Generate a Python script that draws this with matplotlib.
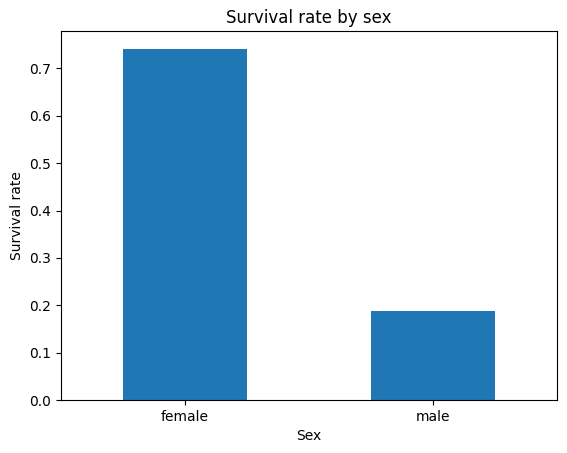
import matplotlib
matplotlib.use("Agg")
import matplotlib.pyplot as plt

categories = ["female", "male"]
survival = [0.742038, 0.188908]

fig = plt.figure(figsize=(5.67, 4.53), dpi=100)
ax = fig.add_axes([61/567, 1-400/453, (557-61)/567, (400-31)/453])
ax.bar(range(len(categories)), survival, width=0.5, color="#1f77b4")
ax.set_xticks(range(len(categories)))
ax.set_xticklabels(categories)
ax.set_xlim(-0.5, 1.5)
ax.set_xlabel("Sex")
ax.set_ylabel("Survival rate")
ax.set_title("Survival rate by sex")
fig.savefig("out.png", dpi=100)
